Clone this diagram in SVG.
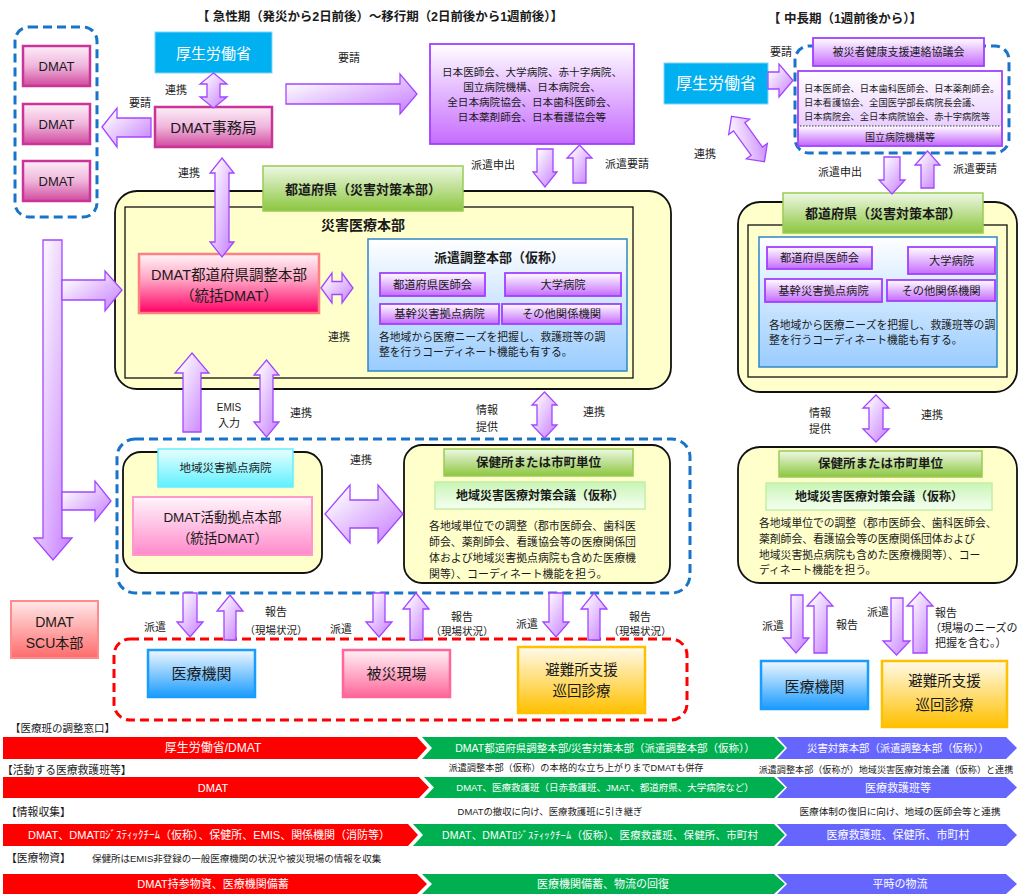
<svg xmlns="http://www.w3.org/2000/svg" width="1020" height="895" viewBox="0 0 1020 895">
<defs>
<linearGradient id="gA" x1="0" y1="0" x2="1" y2="1"><stop offset="0" stop-color="#ffffff"/><stop offset="0.2" stop-color="#f8efff"/><stop offset="1" stop-color="#c57aff"/></linearGradient>
<linearGradient id="gM" x1="0" y1="0" x2="0" y2="1"><stop offset="0" stop-color="#fdeef8"/><stop offset="0.5" stop-color="#efb5dc"/><stop offset="1" stop-color="#d04a9e"/></linearGradient>
<linearGradient id="gP" x1="0" y1="0" x2="0" y2="1"><stop offset="0" stop-color="#ffffff"/><stop offset="1" stop-color="#c66bff"/></linearGradient>
<linearGradient id="gP2" x1="0" y1="0" x2="0" y2="1"><stop offset="0" stop-color="#ffffff"/><stop offset="1" stop-color="#e2bdff"/></linearGradient>
<linearGradient id="gG" x1="0" y1="0" x2="0" y2="1"><stop offset="0" stop-color="#eef8e4"/><stop offset="1" stop-color="#8cc63f"/></linearGradient>
<linearGradient id="gLG" x1="0" y1="0" x2="0" y2="1"><stop offset="0" stop-color="#c9f5b5"/><stop offset="1" stop-color="#f6fff2"/></linearGradient>
<linearGradient id="gB" x1="0" y1="0" x2="0" y2="1"><stop offset="0" stop-color="#ffffff"/><stop offset="1" stop-color="#99ccff"/></linearGradient>
<linearGradient id="gR" x1="0" y1="0" x2="0" y2="1"><stop offset="0" stop-color="#fff5f8"/><stop offset="0.45" stop-color="#ff9fc0"/><stop offset="1" stop-color="#ff0066"/></linearGradient>
<linearGradient id="gPk" x1="0" y1="0" x2="0" y2="1"><stop offset="0" stop-color="#fff5fb"/><stop offset="1" stop-color="#ff8acb"/></linearGradient>
<linearGradient id="gC" x1="0" y1="0" x2="0" y2="1"><stop offset="0" stop-color="#e8ffff"/><stop offset="1" stop-color="#5ff0ff"/></linearGradient>
<linearGradient id="gBl" x1="0" y1="0" x2="0" y2="1"><stop offset="0" stop-color="#f0f8ff"/><stop offset="1" stop-color="#1a9bff"/></linearGradient>
<linearGradient id="gPF" x1="0" y1="0" x2="0" y2="1"><stop offset="0" stop-color="#fff2f6"/><stop offset="1" stop-color="#ff6699"/></linearGradient>
<linearGradient id="gO" x1="0" y1="0" x2="0" y2="1"><stop offset="0" stop-color="#fffbea"/><stop offset="1" stop-color="#ffc000"/></linearGradient>
<linearGradient id="gS" x1="0" y1="0" x2="0" y2="1"><stop offset="0" stop-color="#ffe8e8"/><stop offset="1" stop-color="#ff6b6b"/></linearGradient>
</defs>
<style>
text{font-family:'Liberation Sans','Noto Sans CJK JP',sans-serif;fill:#1a1a1a;dominant-baseline:central}
.c{text-anchor:middle}
.b{font-weight:bold}
.w{fill:#ffffff}
.arr{fill:url(#gA);stroke:#a347ff;stroke-width:1.3;stroke-linejoin:miter}
.yel{fill:#ffffcc;stroke:#111;stroke-width:1.8}
.inn{fill:none;stroke:#111;stroke-width:1.3}
.dashB{fill:none;stroke:#1874c8;stroke-width:3;stroke-dasharray:9 5}
.dashR{fill:none;stroke:#ff0000;stroke-width:3;stroke-dasharray:9 5}
.pb{fill:url(#gP);stroke:#a040ff;stroke-width:1.8}
.mag{fill:url(#gM);stroke:#cc3399;stroke-width:2.5}
.mhlw{fill:#00b0f0;stroke:#7fd6f7;stroke-width:1}
.gh{fill:url(#gG);stroke:#99cc55;stroke-width:1.5}
.lg{fill:url(#gLG);stroke:#c2f0a6;stroke-width:1.5}
.bl{fill:url(#gB);stroke:#2f86c8;stroke-width:1.5}
.red{fill:#ff0000}
.grn{fill:#00b050}
.blu{fill:#6666ff}
</style>
<rect width="1020" height="895" fill="#ffffff"/>

<g id="titles">
<text x="380" y="17" class="c b" font-size="12.5" textLength="366">【 急性期（発災から2日前後）～移行期（2日前後から1週前後）】</text>
<text x="845" y="19" class="c b" font-size="12.5">【 中長期（1週前後から）】</text>
</g>

<g id="dmat-group">
<rect x="15" y="27" width="82" height="190" rx="14" class="dashB"/>
<rect x="23" y="46" width="67" height="40" class="mag"/><text x="56.5" y="66" class="c" font-size="13">DMAT</text>
<rect x="23" y="104" width="67" height="40" class="mag"/><text x="56.5" y="124" class="c" font-size="13">DMAT</text>
<rect x="23" y="161" width="67" height="40" class="mag"/><text x="56.5" y="181" class="c" font-size="13">DMAT</text>
</g>

<g id="mhlw-left">
<rect x="155" y="32" width="117" height="41" class="mhlw"/>
<text x="213.5" y="53" class="c w" font-size="15">厚生労働省</text>
</g>
<g id="dmat-office">
<rect x="155" y="107" width="117" height="40" class="mag"/>
<text x="213.5" y="127.5" class="c" font-size="15">DMAT事務局</text>
</g>

<g id="orgs-left">
<rect x="430" y="44" width="204" height="100" class="pb"/>
<text x="532" y="72" class="c" font-size="10.6">日本医師会、大学病院、赤十字病院、</text>
<text x="532" y="87" class="c" font-size="10.6">国立病院機構、日本病院会、</text>
<text x="532" y="102" class="c" font-size="10.6">全日本病院協会、日本歯科医師会、</text>
<text x="532" y="117" class="c" font-size="10.6">日本薬剤師会、日本看護協会等</text>
</g>

<g id="pref-left">
<rect x="115" y="191" width="556" height="198" rx="22" class="yel"/>
<rect x="125" y="207" width="508" height="171" class="inn"/>
<rect x="263" y="166" width="200" height="45" class="gh"/>
<text x="363" y="189" class="c b" font-size="13">都道府県（災害対策本部）</text>
<text x="363" y="225" class="c b" font-size="14">災害医療本部</text>
</g>

<g id="dmat-pref-hq">
<rect x="139" y="254" width="180" height="59" fill="url(#gR)" stroke="#ff8080" stroke-width="2.5"/>
<text x="229" y="275" class="c" font-size="14.5">DMAT都道府県調整本部</text>
<text x="229" y="296" class="c" font-size="14.5">（統括DMAT）</text>
</g>

<g id="dispatch-hq-left">
<rect x="368" y="239" width="259" height="132" class="bl"/>
<text x="499" y="257" class="c b" font-size="13">派遣調整本部（仮称）</text>
<rect x="380" y="273" width="105" height="23" class="pb" stroke-width="1.5"/><text x="432.5" y="284.5" class="c" font-size="11.3">都道府県医師会</text>
<rect x="505" y="273" width="116" height="23" class="pb" stroke-width="1.5"/><text x="563" y="284.5" class="c" font-size="11.3">大学病院</text>
<rect x="380" y="304" width="119" height="20" class="pb" stroke-width="1.5"/><text x="439.5" y="314" class="c" font-size="11.3">基幹災害拠点病院</text>
<rect x="502" y="304" width="119" height="20" class="pb" stroke-width="1.5"/><text x="561.5" y="314" class="c" font-size="11.3">その他関係機関</text>
<text x="379" y="337" font-size="10.8">各地域から医療ニーズを把握し、救護班等の調</text>
<text x="379" y="352" font-size="10.8">整を行うコーディネート機能も有する。</text>
</g>

<g id="local-left-group">
<rect x="117" y="439" width="573" height="154" rx="18" class="dashB"/>
</g>
<g id="base-hospital">
<rect x="123" y="452" width="199" height="121" rx="18" class="yel"/>
<rect x="158" y="449" width="135" height="38" fill="url(#gC)" stroke="#66eeff" stroke-width="1.5"/>
<text x="225.5" y="468" class="c" font-size="11.5">地域災害拠点病院</text>
<rect x="133" y="497" width="179" height="58" fill="url(#gPk)" stroke="#ff99cc" stroke-width="2"/>
<text x="222.5" y="517" class="c" font-size="13.5">DMAT活動拠点本部</text>
<text x="222.5" y="538" class="c" font-size="13.5">（統括DMAT）</text>
</g>
<g id="health-center-left">
<rect x="404" y="445" width="266" height="138" rx="18" class="yel"/>
<rect x="444" y="449" width="189" height="27" class="gh"/>
<text x="538.5" y="462.5" class="c b" font-size="12.5">保健所または市町単位</text>
<rect x="435" y="482" width="210" height="27" class="lg"/>
<text x="540" y="495.5" class="c b" font-size="12">地域災害医療対策会議（仮称）</text>
<text x="429" y="526" font-size="10.9">各地域単位での調整（郡市医師会、歯科医</text>
<text x="429" y="542" font-size="10.9">師会、薬剤師会、看護協会等の医療関係団</text>
<text x="429" y="558" font-size="10.9">体および地域災害拠点病院も含めた医療機</text>
<text x="429" y="574" font-size="10.9">関等）、コーディネート機能を担う。</text>
</g>

<g id="sites-left">
<rect x="114" y="639" width="573" height="81" rx="16" class="dashR"/>
</g>
<g id="med-inst-left">
<rect x="148" y="650" width="107" height="47" fill="url(#gBl)" stroke="#1a9cff" stroke-width="2.5"/>
<text x="201.5" y="673.5" class="c" font-size="15">医療機関</text>
</g>
<g id="disaster-site">
<rect x="343" y="650" width="107" height="47" fill="url(#gPF)" stroke="#ff6699" stroke-width="2.5"/>
<text x="396.5" y="673.5" class="c" font-size="15">被災現場</text>
</g>
<g id="shelter-left">
<rect x="518" y="647" width="127" height="66" fill="url(#gO)" stroke="#ffc000" stroke-width="2.5"/>
<text x="581.5" y="670" class="c" font-size="14.5">避難所支援</text>
<text x="581.5" y="691" class="c" font-size="14.5">巡回診療</text>
</g>
<g id="scu">
<rect x="11" y="601" width="87" height="57" fill="url(#gS)" stroke="#ff8c8c" stroke-width="2"/>
<text x="54.5" y="622" class="c" font-size="14">DMAT</text>
<text x="54.5" y="643" class="c" font-size="14">SCU本部</text>
</g>

<g id="mhlw-right">
<rect x="664" y="63" width="104" height="41" class="mhlw"/>
<text x="716" y="83.5" class="c w" font-size="16">厚生労働省</text>
</g>
<g id="council-right">
<rect x="795" y="46" width="214" height="107" rx="14" class="dashB"/>
<rect x="798" y="71" width="204" height="75" fill="url(#gP2)" stroke="#a040ff" stroke-width="1.8"/>
<rect x="799" y="126" width="202" height="19" fill="url(#gP)"/>
<line x1="800" y1="126" x2="1000" y2="126" stroke="#333" stroke-width="1" stroke-dasharray="1.5 1.5"/>
<text x="804" y="89" font-size="9.3">日本医師会、日本歯科医師会、日本薬剤師会。</text>
<text x="804" y="103" font-size="9.3">日本看護協会、全国医学部長病院長会議、</text>
<text x="804" y="117" font-size="9.3">日本病院会、全日本病院協会、赤十字病院等</text>
<text x="900" y="137" class="c" font-size="10">国立病院機構等</text>
<rect x="813" y="38" width="171" height="28" class="pb"/>
<text x="898.5" y="52" class="c" font-size="11">被災者健康支援連絡協議会</text>
</g>

<g id="pref-right">
<rect x="738" y="202" width="279" height="190" rx="22" class="yel"/>
<rect x="748" y="225" width="259" height="152" class="inn"/>
<rect x="759" y="237" width="238" height="130" class="bl"/>
<rect x="783" y="193" width="200" height="40" class="gh"/>
<text x="883" y="213" class="c b" font-size="13">都道府県（災害対策本部）</text>
<rect x="767" y="247" width="105" height="22" class="pb" stroke-width="1.5"/><text x="819.5" y="258" class="c" font-size="11.3">都道府県医師会</text>
<rect x="908" y="247" width="87" height="27" class="pb" stroke-width="1.5"/><text x="951.5" y="260.5" class="c" font-size="11.3">大学病院</text>
<rect x="765" y="279" width="117" height="23" class="pb" stroke-width="1.5"/><text x="823.5" y="290.5" class="c" font-size="11.3">基幹災害拠点病院</text>
<rect x="887" y="280" width="108" height="21" class="pb" stroke-width="1.5"/><text x="941" y="290.5" class="c" font-size="11.3">その他関係機関</text>
<text x="769" y="325" font-size="10.8">各地域から医療ニーズを把握し、救護班等の調</text>
<text x="769" y="340" font-size="10.8">整を行うコーディネート機能も有する。</text>
</g>

<g id="health-center-right">
<rect x="738" y="447" width="279" height="136" rx="22" class="yel"/>
<rect x="779" y="451" width="203" height="26" class="gh"/>
<text x="880.5" y="464" class="c b" font-size="12.5">保健所または市町単位</text>
<rect x="766" y="483" width="226" height="27" class="lg"/>
<text x="879" y="496.5" class="c b" font-size="12">地域災害医療対策会議（仮称）</text>
<text x="759" y="523" font-size="10.8">各地域単位での調整（郡市医師会、歯科医師会、</text>
<text x="759" y="539" font-size="10.8">薬剤師会、看護協会等の医療関係団体および</text>
<text x="759" y="555" font-size="10.8">地域災害拠点病院も含めた医療機関等）、コー</text>
<text x="759" y="570" font-size="10.8">ディネート機能を担う。</text>
</g>

<g id="med-inst-right">
<rect x="761" y="661" width="107" height="48" fill="url(#gBl)" stroke="#1a9cff" stroke-width="2.5"/>
<text x="814.5" y="686" class="c" font-size="15">医療機関</text>
</g>
<g id="shelter-right">
<rect x="882" y="661" width="125" height="66" fill="url(#gO)" stroke="#ffc000" stroke-width="2.5"/>
<text x="944.5" y="681" class="c" font-size="14.5">避難所支援</text>
<text x="944.5" y="705" class="c" font-size="14.5">巡回診療</text>
</g>

<g id="connectors">
<polygon class="arr" points="213.5,73 227,84 220,84 220,97 227,97 213.5,108 200,97 207,97 207,84 200,84"/>
<polygon class="arr" points="102,127 117,108 117,118 151,118 151,137 117,137 117,147"/>
<polygon class="arr" points="286,84 400,84 400,74 417,94 400,114 400,104 286,104"/>
<polygon class="arr" points="537,149 553,149 553,172 557,172 545,187 533,172 537,172"/>
<polygon class="arr" points="579.5,145 592,158 586,158 586,183 573,183 573,158 567,158"/>
<polygon class="arr" points="222,158 234,173 229,173 229,242 234,242 222,257 210,242 215,242 215,173 210,173"/>
<polygon class="arr" points="43,240 62,240 62,538 72,538 53,560 34,538 43,538"/>
<polygon class="arr" points="62,280 105,280 105,271 122,290 105,311 105,300 62,300"/>
<polygon class="arr" points="62,492 95,492 95,481 111,501 95,521 95,510 62,510"/>
<polygon class="arr" points="321,288 332,273 332,281.5 342,281.5 342,273 353,288 342,303 342,294.5 332,294.5 332,303"/>
<polygon class="arr" points="192,353 209,373 201,373 201,432 183,432 183,373 175,373"/>
<polygon class="arr" points="266.5,360 279,375 273,375 273,422 279,422 266.5,437 254,422 260,422 260,375 254,375"/>
<polygon class="arr" points="544.5,392 557,405 552,405 552,425 557,425 544.5,438 532,425 537,425 537,405 532,405"/>
<polygon class="arr" points="325,514 350,485 350,500 378,500 378,485 403,514 378,543 378,528 350,528 350,543"/>
<polygon class="arr" points="183,593 197,593 197,622 203,622 190,637 177,622 183,622"/>
<polygon class="arr" points="230,595 243,611 236,611 236,640 224,640 224,611 217,611"/>
<polygon class="arr" points="373,593 385,593 385,622 392,622 379,637 366,622 373,622"/>
<polygon class="arr" points="416,593 429,609 423,609 423,640 410,640 410,609 403,609"/>
<polygon class="arr" points="549,593 563,593 563,622 569,622 556,637 543,622 549,622"/>
<polygon class="arr" points="594,593 607,609 600,609 600,640 588,640 588,609 581,609"/>
<polygon class="arr" points="768,72 779,72 779,64 793,80.5 779,97 779,89 768,89"/>
<polygon class="arr" transform="rotate(-36 748 139)" points="748,111 761,124 755,124 755,154 761,154 748,167 735,154 741,154 741,124 735,124"/>
<polygon class="arr" points="884,157 900,157 900,180 905,180 892,194 879,180 884,180"/>
<polygon class="arr" points="927.5,151 940,165 934,165 934,188 921,188 921,165 915,165"/>
<polygon class="arr" points="876,395 889,408 883,408 883,429 889,429 876,442 863,429 869,429 869,408 863,408"/>
<polygon class="arr" points="791,595 803,595 803,638 809,638 796,653 783,638 791,638"/>
<polygon class="arr" points="820,592 833,606 827,606 827,653 814,653 814,606 807,606"/>
<polygon class="arr" points="891,598 903,598 903,641 910,641 896.5,655 883,641 891,641"/>
<polygon class="arr" points="920,592 933,606 927,606 927,653 913,653 913,606 907,606"/>
</g>

<g id="connector-labels" font-size="11">
<text x="176" y="90" class="c" font-size="11">連携</text>
<text x="140" y="103" class="c" font-size="11">要請</text>
<text x="349" y="58" class="c" font-size="11">要請</text>
<text x="189" y="173" class="c" font-size="11">連携</text>
<text x="493" y="165" class="c" font-size="11">派遣申出</text>
<text x="627" y="164" class="c" font-size="11">派遣要請</text>
<text x="339" y="337" class="c" font-size="11">連携</text>
<text x="229" y="407" class="c" font-size="10">EMIS</text>
<text x="229" y="423" class="c" font-size="11">入力</text>
<text x="301" y="413" class="c" font-size="11">連携</text>
<text x="487" y="410" class="c" font-size="11">情報</text>
<text x="487" y="427" class="c" font-size="11">提供</text>
<text x="594" y="412" class="c" font-size="11">連携</text>
<text x="361" y="460" class="c" font-size="11">連携</text>
<text x="155" y="627" class="c" font-size="11">派遣</text>
<text x="276" y="612" class="c" font-size="11">報告</text>
<text x="276" y="630" class="c" font-size="10.5">（現場状況）</text>
<text x="341" y="629" class="c" font-size="11">派遣</text>
<text x="462" y="617" class="c" font-size="11">報告</text>
<text x="462" y="631" class="c" font-size="10.5">（現場状況）</text>
<text x="527" y="624" class="c" font-size="11">派遣</text>
<text x="640" y="617" class="c" font-size="11">報告</text>
<text x="640" y="631" class="c" font-size="10.5">（現場状況）</text>
<text x="781" y="52" class="c" font-size="11">要請</text>
<text x="705" y="154" class="c" font-size="11">連携</text>
<text x="840" y="172" class="c" font-size="11">派遣申出</text>
<text x="975" y="169" class="c" font-size="11">派遣要請</text>
<text x="820" y="413" class="c" font-size="11">情報</text>
<text x="820" y="429" class="c" font-size="11">提供</text>
<text x="932" y="415" class="c" font-size="11">連携</text>
<text x="773" y="626" class="c" font-size="11">派遣</text>
<text x="847" y="625" class="c" font-size="11">報告</text>
<text x="878" y="612" class="c" font-size="11">派遣</text>
<text x="935" y="613" font-size="11">報告</text>
<text x="930" y="628" font-size="11">（現場のニーズの</text>
<text x="935" y="643" font-size="11">把握を含む。）</text>
</g>

<g id="timeline">
<text x="10" y="728" font-size="10.5">【医療班の調整窓口】</text>
<path class="red" d="M3,737H417L427,748L417,759H3Z"/>
<path class="grn" d="M422,737H774L785,748L774,759H422L432,748Z"/>
<path class="blu" d="M777,737H1006L1017,748L1006,759H777L787,748Z"/>
<text x="213" y="748" class="c w" font-size="12">厚生労働省/DMAT</text>
<text x="605" y="748" class="c w" font-size="10.5">DMAT都道府県調整本部/災害対策本部（派遣調整本部（仮称））</text>
<text x="898" y="748" class="c w" font-size="10.4">災害対策本部（派遣調整本部（仮称））</text>

<text x="2" y="770" font-size="10.8">【活動する医療救護班等】</text>
<text x="576" y="768" class="c" font-size="9.2">派遣調整本部（仮称）の本格的な立ち上がりまでDMATも併存</text>
<text x="886" y="770" class="c" font-size="9.1">派遣調整本部（仮称が）地域災害医療対策会議（仮称）と連携</text>
<path class="red" d="M3,777H419L429,787.5L419,798H3Z"/>
<path class="grn" d="M424,777H774L785,787.5L774,798H424L434,787.5Z"/>
<path class="blu" d="M777,777H1006L1017,787.5L1006,798H777L787,787.5Z"/>
<text x="213" y="787.5" class="c w" font-size="11">DMAT</text>
<text x="605" y="787.5" class="c w" font-size="9.5">DMAT、医療救護班（日赤救護班、JMAT、都道府県、大学病院など）</text>
<text x="898" y="787.5" class="c w" font-size="11">医療救護班等</text>

<text x="6" y="812" font-size="10.8">【情報収集】</text>
<text x="550" y="811" class="c" font-size="9.4">DMATの撤収に向け、医療救護班に引き継ぎ</text>
<text x="900" y="811" class="c" font-size="9.6">医療体制の復旧に向け、地域の医師会等と連携</text>
<path class="red" d="M3,824H408L418,835L408,846H3Z"/>
<path class="grn" d="M413,824H774L785,835L774,846H413L423,835Z"/>
<path class="blu" d="M777,824H1006L1017,835L1006,846H777L787,835Z"/>
<text x="209" y="835" class="c w" font-size="11" textLength="362">DMAT、DMATﾛｼﾞｽﾃｨｯｸﾁｰﾑ（仮称）、保健所、EMIS、関係機関（消防等）</text>
<text x="600" y="835" class="c w" font-size="10.5" textLength="316">DMAT、DMATﾛｼﾞｽﾃｨｯｸﾁｰﾑ（仮称）、医療救護班、保健所、市町村</text>
<text x="898" y="835" class="c w" font-size="11">医療救護班、保健所、市町村</text>

<text x="6" y="858" font-size="10.8">【医療物資】</text>
<text x="92" y="858" font-size="9.5">保健所はEMIS非登録の一般医療機関の状況や被災現場の情報を収集</text>
<path class="red" d="M3,874H417L427,884L417,894H3Z"/>
<path class="grn" d="M422,874H774L785,884L774,894H422L432,884Z"/>
<path class="blu" d="M777,874H1006L1017,884L1006,894H777L787,884Z"/>
<text x="213" y="884" class="c w" font-size="11">DMAT持参物資、医療機関備蓄</text>
<text x="603" y="884" class="c w" font-size="11">医療機関備蓄、物流の回復</text>
<text x="900" y="884" class="c w" font-size="11">平時の物流</text>
</g>
</svg>
